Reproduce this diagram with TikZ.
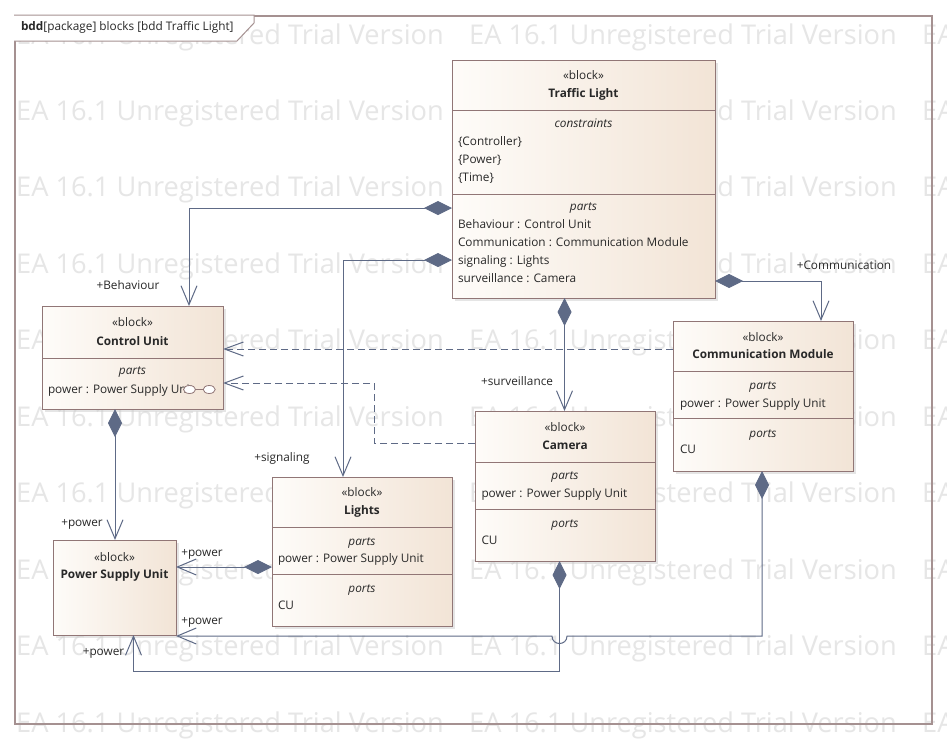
\documentclass[tikz,border=0pt]{standalone}
\usepackage{fontspec}
\setmainfont{Open Sans}
\usetikzlibrary{arrows.meta,shadows,shapes.geometric}
\definecolor{lnc}{RGB}{94,106,134}
\definecolor{bdc}{RGB}{145,118,118}
\definecolor{txc}{RGB}{40,40,40}
\definecolor{wmc}{RGB}{230,230,230}
\definecolor{frc}{RGB}{165,145,145}
\definecolor{fillL}{RGB}{254,252,249}
\definecolor{fillR}{RGB}{242,228,214}
\tikzset{
  blk/.style={draw=bdc, line width=1pt, left color=fillL, right color=fillR,
    drop shadow={shadow xshift=3pt, shadow yshift=-3pt, fill=black!20},
    anchor=north west, inner sep=0pt, outer sep=0pt},
  divl/.style={draw=bdc, line width=1pt},
  tx/.style={inner sep=0pt, outer sep=0pt, text=txc, font=\fontsize{11.8}{14}\selectfont, anchor=base},
  txl/.style={tx, anchor=base west},
  wm/.style={inner sep=0pt, text=wmc, font=\fontsize{27.2}{30}\selectfont, anchor=base west},
  comp/.style={draw=lnc, line width=1pt, {Diamond[length=28pt,width=14pt,fill=lnc]}-{Straight Barb[length=19pt,width=16pt]}},
  dep/.style={draw=lnc, line width=1pt, dash pattern=on 7pt off 4pt, -{Straight Barb[length=19pt,width=14pt]}},
  portel/.style={ellipse, draw=bdc, fill=white, line width=0.8pt, minimum width=12pt, minimum height=8pt, inner sep=0pt}
}
\begin{document}
\begin{tikzpicture}[x=1pt,y=-1pt]
\useasboundingbox (0,0) rectangle (947,739);
\fill[white] (0,0) rectangle (947,739);
% watermark
\begin{scope}
\clip (0,0) rectangle (947,739);
\foreach \r in {0,...,9}{
  \foreach \c in {16,469,922}{
    \node[wm] (wm-\r-\c) at (\c,44+76.45*\r) {EA 16.1 Unregistered Trial Version};
  }
}
\end{scope}
% frame
\node[draw=frc, line width=2pt, minimum width=917pt, minimum height=708pt, anchor=north west, inner sep=0pt] (frm) at (14,15) {};
\draw[draw=frc, line width=1pt, fill=white] (14,15) -- (254,15) -- (254,23) -- (237,41) -- (14,41);
\node[txl] (hdr) at (21,30) {\textbf{bdd}[package] blocks [bdd Traffic Light]};

% blocks
\node[blk, minimum width=263pt, minimum height=238pt] (tl) at (452,60) {};
\node[blk, minimum width=181pt, minimum height=103pt] (cu) at (42,306) {};
\node[blk, minimum width=180pt, minimum height=150pt] (cm) at (673,321) {};
\node[blk, minimum width=180pt, minimum height=150pt] (cam) at (475,411) {};
\node[blk, minimum width=180pt, minimum height=149pt] (li) at (272,477) {};
\node[blk, minimum width=123pt, minimum height=95pt] (psu) at (53,540) {};

% dividers
\draw[divl] (tl.west |- 0,110) -- (tl.east |- 0,110);
\draw[divl] (tl.west |- 0,194) -- (tl.east |- 0,194);
\draw[divl] (cu.west |- 0,358) -- (cu.east |- 0,358);
\draw[divl] (cm.west |- 0,371) -- (cm.east |- 0,371);
\draw[divl] (cm.west |- 0,418) -- (cm.east |- 0,418);
\draw[divl] (cam.west |- 0,462) -- (cam.east |- 0,462);
\draw[divl] (cam.west |- 0,509) -- (cam.east |- 0,509);
\draw[divl] (li.west |- 0,527) -- (li.east |- 0,527);
\draw[divl] (li.west |- 0,574.5) -- (li.east |- 0,574.5);

% Traffic Light texts
\node[tx] (tl1) at (583.5,79) {«block»};
\node[tx] (tl2) at (583.5,97) {\bfseries Traffic Light};
\node[tx] (tl3) at (583.5,127) {\itshape constraints};
\node[txl] (tl4) at (458,145.5) {\{Controller\}};
\node[txl] (tl5) at (458,163) {\{Power\}};
\node[txl] (tl6) at (458,181) {\{Time\}};
\node[tx] (tl7) at (583.5,210.5) {\itshape parts};
\node[txl] (tl8) at (458,228.5) {Behaviour : Control Unit};
\node[txl] (tl9) at (458,246.5) {Communication : Communication Module};
\node[txl] (tl10) at (458,264) {signaling : Lights};
\node[txl] (tl11) at (458,282) {surveillance : Camera};

% Control Unit texts
\node[tx] (cu1) at (132.5,326) {«block»};
\node[tx] (cu2) at (132.5,345) {\bfseries Control Unit};
\node[tx] (cu3) at (132.5,374) {\itshape parts};
\node[txl] (cu4) at (48,393) {power : Power Supply Unit};
\node[portel] (pe1) at (189.5,389.5) {};
\node[portel] (pe2) at (209.2,389.5) {};
\draw[draw=bdc, line width=0.8pt] (pe1) -- (pe2);

% Communication Module texts
\node[tx] (cm1) at (763,341) {«block»};
\node[tx] (cm2) at (763,358.5) {\bfseries Communication Module};
\node[tx] (cm3) at (763,389) {\itshape parts};
\node[txl] (cm4) at (680,407) {power : Power Supply Unit};
\node[tx] (cm5) at (763,437) {\itshape ports};
\node[txl] (cm6) at (680,453.5) {CU};

% Camera texts
\node[tx] (ca1) at (565,431) {«block»};
\node[tx] (ca2) at (565,449.5) {\bfseries Camera};
\node[tx] (ca3) at (565,479) {\itshape parts};
\node[txl] (ca4) at (481.5,497) {power : Power Supply Unit};
\node[tx] (ca5) at (565,527) {\itshape ports};
\node[txl] (ca6) at (481.5,544.5) {CU};

% Lights texts
\node[tx] (li1) at (362,496.5) {«block»};
\node[tx] (li2) at (362,514.5) {\bfseries Lights};
\node[tx] (li3) at (362,545) {\itshape parts};
\node[txl] (li4) at (278,562.5) {power : Power Supply Unit};
\node[tx] (li5) at (362,592) {\itshape ports};
\node[txl] (li6) at (278,609.5) {CU};

% PSU texts
\node[tx] (ps1) at (114.5,561) {«block»};
\node[tx] (ps2) at (114.5,578.5) {\bfseries Power Supply Unit};

% connectors
\draw[comp] (tl.west |- 0,208) -| (cu.north -| 189,0);
\draw[comp] (tl.west |- 0,260) -| (li.north -| 343,0);
\draw[comp] (tl.east |- 0,281) -| (cm.north -| 821,0);
\draw[comp] (tl.south -| 564.5,0) -- (cam.north -| 564.5,0);
\draw[dep] (cm.west |- 0,349) -- (cu.east |- 0,349);
\draw[dep] (cam.west |- 0,443) -- (374,443) -- (374,383) -- (cu.east |- 0,383);
\draw[comp] (cu.south -| 115,0) -- (psu.north -| 115,0);
\draw[comp] (li.west |- 0,567) -- (psu.east |- 0,567);
\draw[comp] (cm.south -| 762,0) -- (762,636) -- (567,636) .. controls (567,646) and (552,646) .. (552,636) -- (psu.east |- 0,636);
\draw[comp] (cam.south -| 559.5,0) -- (559.5,671) -- (133.5,671) -- (psu.south -| 133.5,0);

% labels
\node[tx] (lb1) at (128,289) {+Behaviour};
\node[tx] (lb2) at (282,461) {+signaling};
\node[tx] (lb3) at (844,269.5) {+Communication};
\node[tx] (lb4) at (517,385) {+surveillance};
\node[tx] (lb5) at (82,526) {+power};
\node[tx] (lb6) at (202,556) {+power};
\node[tx] (lb7) at (202,624) {+power};
\node[tx] (lb8) at (103.5,655) {+power};
\end{tikzpicture}
\end{document}
